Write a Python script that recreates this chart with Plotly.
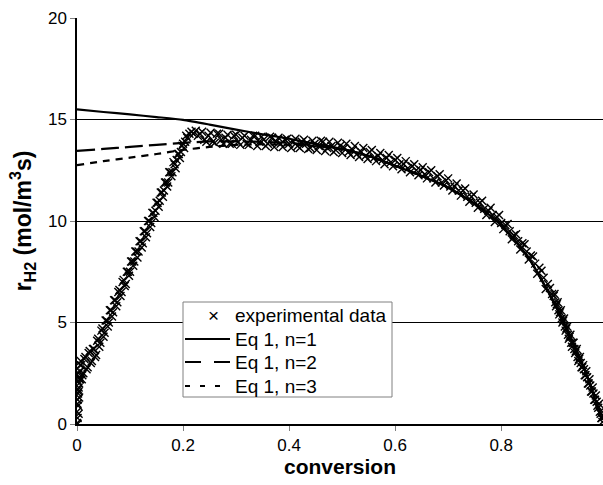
import plotly.graph_objects as go

exp_x = [0.000, 0.001, 0.000, 0.002, 0.001, 0.002, 0.003, 0.002, 0.004, 0.003, 0.005, 0.004, 0.006,
         0.001, 0.003, 0.001, 0.004, 0.002, 0.005, 0.003, 0.006, 0.007, 0.009,
         0.008, 0.012, 0.016, 0.020, 0.024, 0.028, 0.032, 0.036, 0.040, 0.044, 0.048, 0.052, 0.056,
         0.060, 0.064, 0.068, 0.072, 0.076, 0.080, 0.084, 0.088, 0.092, 0.096, 0.100, 0.104, 0.108,
         0.112, 0.116, 0.120, 0.124, 0.128, 0.132, 0.136, 0.140, 0.144, 0.148, 0.152, 0.156, 0.160,
         0.164, 0.168, 0.172, 0.176, 0.180, 0.184, 0.188, 0.192, 0.196, 0.200, 0.204, 0.208, 0.212,
         0.216, 0.220, 0.224, 0.228,
         0.010, 0.014, 0.018, 0.022, 0.026, 0.030, 0.034, 0.038, 0.042, 0.046, 0.050, 0.054, 0.058,
         0.062, 0.066, 0.070, 0.074, 0.078, 0.082, 0.086, 0.090, 0.094, 0.098, 0.102, 0.106, 0.110,
         0.114, 0.118, 0.122, 0.126, 0.130, 0.134, 0.138, 0.142, 0.146, 0.150, 0.154, 0.158, 0.162,
         0.166, 0.170, 0.174, 0.178, 0.182, 0.186, 0.190, 0.194, 0.198, 0.202, 0.206,
         0.232, 0.240, 0.248, 0.256, 0.264, 0.272, 0.280, 0.288, 0.296, 0.304, 0.312, 0.320, 0.328,
         0.336, 0.344, 0.352, 0.360, 0.368, 0.376, 0.384, 0.392, 0.400, 0.408, 0.416, 0.424, 0.432,
         0.440, 0.448, 0.456, 0.464, 0.472, 0.480, 0.488, 0.496, 0.504, 0.512, 0.520, 0.528, 0.536,
         0.544, 0.552, 0.560, 0.568, 0.576, 0.584, 0.592, 0.600, 0.608, 0.616, 0.624, 0.632, 0.640,
         0.648, 0.656, 0.664, 0.672, 0.680, 0.688, 0.696, 0.704, 0.712, 0.720, 0.728, 0.736, 0.744,
         0.752, 0.760, 0.768, 0.776, 0.784, 0.792, 0.800, 0.808, 0.816, 0.824, 0.832, 0.840, 0.848,
         0.856, 0.864, 0.872, 0.880, 0.888, 0.896,
         0.236, 0.244, 0.252, 0.260, 0.268, 0.276, 0.284, 0.292, 0.300, 0.308, 0.316, 0.324, 0.332,
         0.340, 0.348, 0.356, 0.364, 0.372, 0.380, 0.388, 0.396, 0.404, 0.412, 0.420, 0.428, 0.436,
         0.444, 0.452, 0.460, 0.468, 0.476, 0.484, 0.492, 0.500, 0.508, 0.516, 0.524, 0.532, 0.540,
         0.548, 0.556, 0.564, 0.572, 0.580, 0.588, 0.596, 0.604, 0.612, 0.620, 0.628, 0.636, 0.644,
         0.652, 0.660, 0.668, 0.676, 0.684, 0.692, 0.700, 0.708, 0.716, 0.724, 0.732, 0.740, 0.748,
         0.756, 0.764, 0.772, 0.780, 0.788, 0.796, 0.804, 0.812, 0.820, 0.828, 0.836, 0.844, 0.852,
         0.860, 0.868, 0.876, 0.884, 0.892,
         0.899, 0.902, 0.905, 0.908, 0.911, 0.914, 0.917, 0.920, 0.923, 0.926, 0.929, 0.932, 0.935,
         0.938, 0.941, 0.944, 0.947, 0.950, 0.953, 0.956, 0.959, 0.962, 0.965, 0.968, 0.971, 0.974,
         0.977, 0.980, 0.983, 0.986, 0.989, 0.991,
         0.9005, 0.9035, 0.9065, 0.9095, 0.9125, 0.9155, 0.9185, 0.9215, 0.9245, 0.9275, 0.9305,
         0.9335, 0.9365, 0.9395, 0.9425, 0.9455, 0.9485, 0.9515, 0.9545, 0.9575, 0.9605, 0.9635,
         0.9665, 0.9695, 0.9725, 0.9755, 0.9785, 0.9815, 0.9845, 0.9875, 0.9900]
exp_y = [0.05, 0.3, 0.6, 0.9, 1.2, 1.5, 1.8, 2.1, 2.3, 1.6, 2.6, 2.0, 2.9,
         0.0, 0.5, 1.0, 1.3, 1.7, 2.2, 2.5, 2.2, 3.1, 2.2,
         2.9, 2.5, 3.3, 2.8, 3.6, 3.1, 3.7, 3.4, 4.2, 4.0, 4.7, 4.5, 5.1,
         5.0, 5.6, 5.5, 6.1, 6.0, 6.6, 6.5, 7.1, 6.9, 7.5, 7.5, 8.0, 8.0,
         8.5, 8.5, 9.0, 8.9, 9.5, 9.4, 10.0, 9.9, 10.4, 10.5, 10.9, 11.0, 11.4,
         11.5, 11.9, 11.9, 12.4, 12.4, 12.8, 13.0, 13.3, 13.4, 13.8, 13.9, 14.1, 14.3,
         14.4, 14.3, 14.45, 14.2,
         2.4, 3.2, 2.7, 3.5, 3.0, 3.7, 3.3, 4.1, 3.8, 4.6, 4.3, 5.1, 4.8,
         5.6, 5.3, 6.1, 5.8, 6.5, 6.3, 7.0, 6.8, 7.5, 7.3, 8.0, 7.8, 8.5,
         8.2, 9.0, 8.7, 9.5, 9.2, 10.0, 9.7, 10.4, 10.2, 10.9, 10.7, 11.4, 11.2,
         11.9, 11.7, 12.4, 12.2, 12.9, 12.6, 13.3, 13.1, 13.7, 13.6, 14.2,
         14.3, 14.0, 14.2, 13.9, 14.3, 14.0, 14.1, 13.8, 14.2, 13.9, 14.1, 13.8, 14.0,
         14.2, 13.9, 14.0, 13.8, 14.1, 13.9, 13.8, 14.0, 13.8, 13.9, 13.7, 13.9, 13.8,
         13.6, 13.8, 13.7, 13.9, 13.6, 13.7, 13.5, 13.7, 13.6, 13.4, 13.5, 13.3, 13.4,
         13.2, 13.4, 13.1, 13.2, 13.0, 13.1, 12.9, 13.0, 12.8, 12.8, 12.6, 12.7, 12.5,
         12.5, 12.3, 12.4, 12.1, 12.2, 11.9, 12.0, 11.7, 11.7, 11.5, 11.5, 11.2, 11.2,
         10.9, 10.9, 10.6, 10.5, 10.3, 10.2, 9.9, 9.8, 9.5, 9.3, 9.0, 8.9, 8.5,
         8.3, 7.9, 7.7, 7.2, 6.9, 6.4,
         14.4, 13.9, 14.35, 13.85, 14.3, 13.8, 14.25, 13.8, 14.25, 13.75, 14.2, 13.75, 14.2,
         13.7, 14.15, 13.7, 14.15, 13.65, 14.1, 13.65, 14.05, 13.6, 14.05, 13.6, 14.0, 13.55,
         13.95, 13.5, 13.95, 13.45, 13.9, 13.4, 13.85, 13.35, 13.8, 13.25, 13.7, 13.15, 13.6,
         13.05, 13.5, 12.95, 13.35, 12.8, 13.25, 12.7, 13.1, 12.55, 12.95, 12.4, 12.8, 12.25,
         12.65, 12.1, 12.5, 11.9, 12.3, 11.75, 12.1, 11.5, 11.85, 11.25, 11.6, 10.95, 11.3,
         10.65, 11.0, 10.3, 10.65, 9.95, 10.3, 9.6, 9.85, 9.1, 9.35, 8.6, 8.85, 8.1,
         8.25, 7.4, 7.55, 6.65, 6.7,
         6.3, 6.0, 5.9, 5.6, 5.5, 5.2, 5.1, 4.8, 4.7, 4.4, 4.3, 4.0, 4.0,
         3.7, 3.6, 3.3, 3.2, 3.0, 2.8, 2.7, 2.4, 2.3, 2.0, 1.9, 1.6, 1.5,
         1.2, 1.1, 0.8, 0.6, 0.3, 0.1,
         6.4, 5.8, 6.0, 5.4, 5.6, 5.0, 5.2, 4.6, 4.8, 4.2, 4.4,
         3.8, 4.0, 3.5, 3.7, 3.1, 3.3, 2.8, 2.9, 2.4, 2.6, 2.0,
         2.2, 1.6, 1.8, 1.2, 1.4, 0.9, 1.0, 0.5, 0.3]

# ---- model curves ----
mod_x = [0.0, 0.05, 0.1, 0.15, 0.2, 0.25, 0.3, 0.35, 0.4, 0.45, 0.5, 0.55, 0.6, 0.65, 0.7,
         0.75, 0.8, 0.85, 0.9, 0.93, 0.96, 0.99]
n1_y = [15.5, 15.37, 15.25, 15.12, 14.98, 14.75, 14.5, 14.27, 14.05, 13.8, 13.55, 13.2, 12.72,
        12.22, 11.65, 10.85, 9.8, 8.25, 5.95, 4.3, 2.5, 0.2]
n2_y = [13.45, 13.55, 13.65, 13.75, 13.85, 13.92, 13.92, 13.9, 13.85, 13.72, 13.55, 13.2, 12.72,
        12.22, 11.65, 10.85, 9.8, 8.25, 5.95, 4.3, 2.5, 0.2]
n3_y = [12.75, 12.95, 13.12, 13.3, 13.5, 13.65, 13.75, 13.78, 13.75, 13.68, 13.52, 13.2, 12.72,
        12.22, 11.65, 10.85, 9.8, 8.25, 5.95, 4.3, 2.5, 0.2]

series_names = ["experimental data", "Eq 1, n=1", "Eq 1, n=2", "Eq 1, n=3"]
x_ticks = [0, 0.2, 0.4, 0.6, 0.8]
x_tick_text = ["0", "0.2", "0.4", "0.6", "0.8"]
y_ticks = [0, 5, 10, 15, 20]

FONT = "Arial, Liberation Sans, sans-serif"

# plot-area geometry in pixels (layout only)
W, H = 603, 485
L, R, T, B = 77, 0, 18, 61
PW, PH = W - L - R, H - T - B


def px(xp):
    return (xp - L) / PW


def py(yp):
    return (H - B - yp) / PH


line_styles = [None,
               dict(plot="solid", legend="solid"),
               dict(plot="18px,6px", legend="16px,13px"),
               dict(plot="7px,6px", legend="5px,10px")]
model_y = [None, n1_y, n2_y, n3_y]

fig = go.Figure()
fig.add_trace(go.Scatter(
    x=exp_x, y=exp_y, mode="markers", name=series_names[0], showlegend=False,
    marker=dict(symbol="x-thin", size=8, color="black", line=dict(width=1.4, color="black")),
))
for i in (1, 2, 3):
    fig.add_trace(go.Scatter(x=mod_x, y=model_y[i], mode="lines", name=series_names[i],
                             showlegend=False,
                             line=dict(color="black", width=2.2, dash=line_styles[i]["plot"],
                                       shape="spline", smoothing=0.6)))

# ---- legend box drawn like the original (Excel-style, compact rows) ----
shapes = [dict(type="rect", xref="paper", yref="paper",
               x0=px(183), x1=px(392), y0=py(397), y1=py(302),
               line=dict(color="#808080", width=1), fillcolor="white", layer="above")]
annotations = []
row_y = [315, 339, 362, 386]
for i, name in enumerate(series_names):
    if i == 0:
        annotations.append(dict(xref="paper", yref="paper", x=px(213), y=py(row_y[i]),
                                text="×", showarrow=False, xanchor="center", yanchor="middle",
                                font=dict(family=FONT, size=19, color="black")))
    else:
        shapes.append(dict(type="line", xref="paper", yref="paper",
                           x0=px(185), x1=px(230), y0=py(row_y[i]), y1=py(row_y[i]),
                           line=dict(color="black", width=2.2, dash=line_styles[i]["legend"]),
                           layer="above"))
    annotations.append(dict(xref="paper", yref="paper", x=px(233), y=py(row_y[i]),
                            text=name, showarrow=False, xanchor="left", yanchor="middle",
                            font=dict(family=FONT, size=19, color="black")))

fig.update_layout(
    width=W, height=H,
    margin=dict(l=L, r=R, t=T, b=B),
    paper_bgcolor="white", plot_bgcolor="white",
    font=dict(family=FONT, size=17, color="black"),
    showlegend=False,
    shapes=shapes,
    annotations=annotations,
    xaxis=dict(
        range=[0, 0.992], tickvals=x_ticks, ticktext=x_tick_text,
        showgrid=False, zeroline=False,
        showline=True, linecolor="black", linewidth=1.5,
        ticks="outside", ticklen=5, tickcolor="#808080",
        tickfont=dict(family=FONT, size=17),
        title=dict(text="<b>conversion</b>", font=dict(family=FONT, size=21), standoff=4),
    ),
    yaxis=dict(
        range=[0, 20], tickvals=y_ticks,
        showgrid=True, gridcolor="black", gridwidth=1,
        zeroline=False,
        showline=True, linecolor="black", linewidth=1.5,
        ticks="outside", ticklen=5, tickcolor="#808080",
        tickfont=dict(family=FONT, size=17),
        title=dict(text="<b>r<sub>H2</sub> (mol/m<sup>3</sup>s)</b>", font=dict(family=FONT, size=23), standoff=10),
    ),
)

fig.write_html("out.html")
